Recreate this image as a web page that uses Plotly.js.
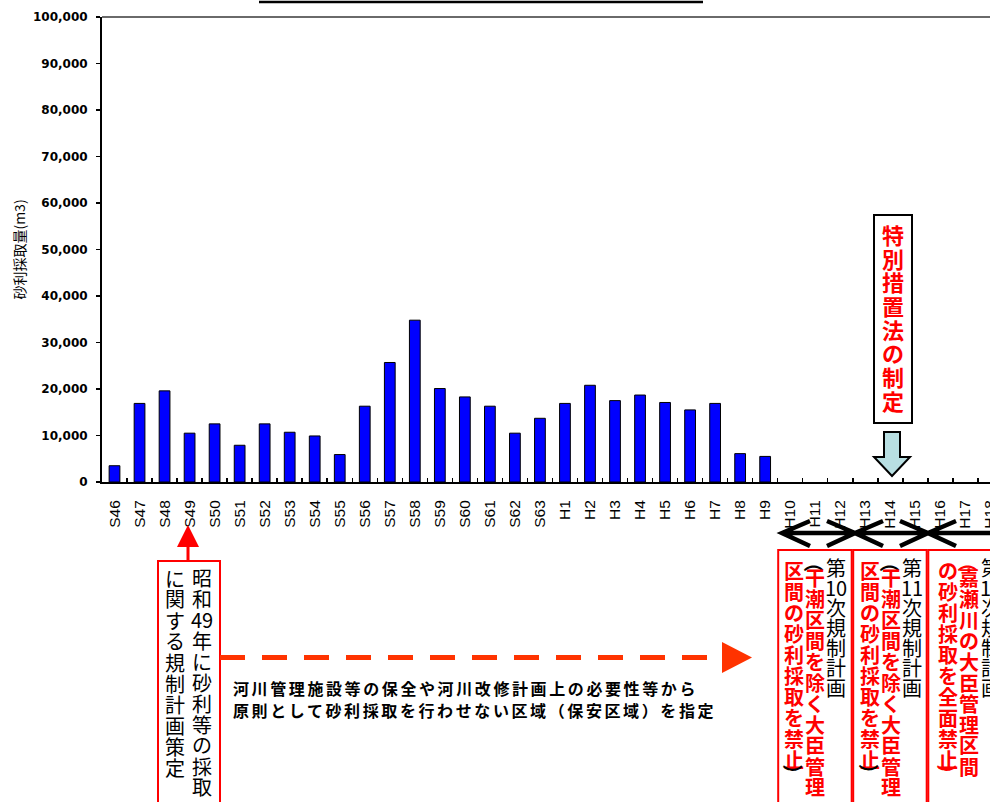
<!DOCTYPE html>
<html>
<head>
<meta charset="utf-8">
<script src="https://cdn.plot.ly/plotly-3.0.1.min.js"></script>
<style>
  html, body { margin: 0; padding: 0; overflow: hidden; background: #fff; }
  #chart { width: 1110px; height: 802px; }
</style>
</head>
<body>
<div id="chart"></div>
<script>
// Fiscal years (Showa 46 .. Heisei 18)
const years = ['S46','S47','S48','S49','S50','S51','S52','S53','S54','S55','S56','S57','S58','S59','S60','S61','S62','S63',
               'H1','H2','H3','H4','H5','H6','H7','H8','H9','H10','H11','H12','H13','H14','H15','H16','H17','H18'];
// Gravel extraction volume (m3); no extraction from H10 on
const volume = [3500,16900,19600,10500,12500,7900,12500,10700,9900,5900,16300,25700,34800,20100,18300,16300,10500,13700,
                16900,20800,17500,18700,17100,15500,16900,6100,5500,null,null,null,null,null,null,null,null,null];

const yTitle = '砂利採取量(m3)';
const lawNote = '特別措置法の制定';
const plan1974 = ['昭和49年に砂利等の採取', 'に関する規制計画策定'];
const zoneNote = ['河川管理施設等の保全や河川改修計画上の必要性等から', '原則として砂利採取を行わせない区域（保安区域）を指定'];
const planTitles = ['第10次規制計画', '第11次規制計画', '第12次規制計画'];
const planRuleA = ['（干潮区間を除く大臣管理', '（干潮区間を除く大臣管理', '（嘉瀬川の大臣管理区間'];
const planRuleB = ['区間の砂利採取を禁止）', '区間の砂利採取を禁止）', 'の砂利採取を全面禁止）'];

// plot frame in pixels
const ML = 102, MT = 17, PW = 1001, PH = 465, PB = MT + PH;
const X = p => (p - ML) / PW;
const Y = p => (PB - p) / PH;

const JP = 'Noto Sans CJK JP, sans-serif';
const RED = '#ff0000';
const annotations = [];
const shapes = [];

// explanatory note under the dashed arrow (letter-spaced via CSS, indices 0 and 1)
zoneNote.forEach((line, i) => {
  annotations.push({
    xref: 'paper', yref: 'paper', x: X(231), y: Y(688 + i * 22),
    xanchor: 'left', yanchor: 'middle', showarrow: false, align: 'left',
    text: line, font: { family: JP, size: 16, weight: 'bold', color: '#000' }
  });
});

// vertical (top-to-bottom) column of text, one token per cell
function vcol(text, xPx, yPx, step, font, parenColor) {
  const toks = text.match(/\d+|./gu);
  let y = yPx, prevParen = false;
  toks.forEach((t, i) => {
    const paren = /[（）]/.test(t);
    if (i > 0) y += (paren || prevParen) ? 15 : step;
    annotations.push({
      xref: 'paper', yref: 'paper', x: X(xPx), y: Y(y),
      xanchor: 'center', yanchor: 'middle', showarrow: false,
      text: t, textangle: paren ? 90 : 0,
      font: Object.assign({}, font, paren && parenColor ? { color: parenColor } : {})
    });
    prevParen = paren;
  });
}

const blackFont = { family: JP, size: 20, color: '#000' };
const redFont = { family: JP, size: 20, color: RED, weight: 'bold' };

// Showa 49 planning note
vcol(plan1974[0], 202, 577, 21, blackFont);
vcol(plan1974[1], 175, 578, 21, blackFont);

// special measures law note
vcol(lawNote, 893, 234, 23.7, { family: JP, size: 22, color: RED, weight: 'bold' });

// regulation plan boxes (left edges in px)
const boxLeft = [777.7, 852.7, 927.8];
const colOffset = [[16, 37, 58.5], [17.5, 38, 59.5], [20, 41, 63]];
const parenColors = ['#000', '#000', RED];
planTitles.forEach((t, k) => {
  const L = boxLeft[k], o = colOffset[k];
  vcol(t, L + o[2], 567, 20, blackFont);
  vcol(planRuleA[k], L + o[1], 562, 21, redFont, parenColors[k]);
  vcol(planRuleB[k], L + o[0], 570, 21, redFont, parenColors[k]);
  shapes.push({ type: 'rect', xref: 'paper', yref: 'paper',
    x0: X(L + 0.5), x1: X(L + 74), y0: Y(550), y1: Y(840),
    line: { color: RED, width: 2 } });
});

const path = pts => pts.map((p, i) => (i ? 'L' : 'M') + X(p[0]) + ',' + Y(p[1])).join(' ');

// top frame and title underline
shapes.push({ type: 'line', xref: 'paper', yref: 'paper', x0: 0, x1: 1, y0: 1, y1: 1,
  line: { color: '#6a6a6a', width: 2 } });
shapes.push({ type: 'line', xref: 'paper', yref: 'paper', x0: X(259), x1: X(703), y0: Y(2), y1: Y(2),
  line: { color: '#000', width: 2.5 } });

// Showa 49 box with red up-arrow
shapes.push({ type: 'rect', xref: 'paper', yref: 'paper', x0: X(158), x1: X(220), y0: Y(561), y1: Y(840),
  line: { color: RED, width: 2 } });
shapes.push({ type: 'line', xref: 'paper', yref: 'paper', x0: X(188), x1: X(188), y0: Y(546), y1: Y(561),
  line: { color: RED, width: 3 } });
shapes.push({ type: 'path', xref: 'paper', yref: 'paper',
  path: path([[177, 547], [199, 547], [188, 525]]) + ' Z', fillcolor: RED, line: { width: 0 } });

// dashed arrow for the protected-zone period
shapes.push({ type: 'line', xref: 'paper', yref: 'paper', x0: X(220), x1: X(722), y0: Y(657.5), y1: Y(657.5),
  line: { color: '#ff3300', width: 5, dash: '25px,17px' } });
shapes.push({ type: 'path', xref: 'paper', yref: 'paper',
  path: path([[722, 642], [722, 673], [752, 657.5]]) + ' Z', fillcolor: '#ff3300', line: { width: 0 } });

// plan period double arrows
let arrows = path([[782, 533], [1110, 533]]);
[782, 855, 928].forEach(t => {
  arrows += ' ' + path([[t + 28, 521], [t, 533], [t + 28, 546]]);
});
[855, 928].forEach(t => {
  arrows += ' ' + path([[t - 28, 521], [t, 533], [t - 28, 546]]);
});
shapes.push({ type: 'path', xref: 'paper', yref: 'paper', path: arrows,
  line: { color: '#000', width: 4.5 } });

// law note frame and down arrow
shapes.push({ type: 'rect', xref: 'paper', yref: 'paper', x0: X(874), x1: X(912), y0: Y(215), y1: Y(423),
  fillcolor: '#fff', line: { color: '#000', width: 2 }, layer: 'below' });
shapes.push({ type: 'path', xref: 'paper', yref: 'paper',
  path: path([[884, 432], [900, 432], [900, 457], [910, 457], [892, 476], [874, 457], [884, 457]]) + ' Z',
  fillcolor: '#b8dfe2', line: { color: '#000', width: 2 } });

const trace = {
  type: 'bar', x: years, y: volume,
  marker: { color: '#0000ff', line: { color: '#000', width: 1 } },
  hoverinfo: 'skip'
};

const layout = {
  width: 1110, height: 802,
  margin: { l: ML, r: 1110 - ML - PW, t: MT, b: 802 - PB },
  paper_bgcolor: '#fff', plot_bgcolor: '#fff',
  showlegend: false, bargap: 0.57,
  xaxis: {
    type: 'category', categoryarray: years, range: [-0.5, 39.5],
    showline: true, linecolor: '#000', linewidth: 2,
    ticks: 'inside', tickson: 'boundaries', ticklen: 4, tickcolor: '#000', tickwidth: 1.5,
    tickangle: -90, ticklabelstandoff: 10,
    tickfont: { family: 'Liberation Sans, Arial, sans-serif', size: 15.5, color: '#000' },
    showgrid: false, zeroline: false, fixedrange: true
  },
  yaxis: {
    range: [0, 100000], dtick: 10000, tickformat: ',d',
    showline: true, linecolor: '#000', linewidth: 2,
    ticks: 'outside', ticklen: 4, tickcolor: '#000', tickwidth: 1.5, ticklabelstandoff: 6,
    tickfont: { family: 'DejaVu Sans, sans-serif', size: 12, weight: 'bold', color: '#000' },
    title: { text: yTitle, standoff: 4, font: { family: JP, size: 14, color: '#000' } },
    showgrid: false, zeroline: false, fixedrange: true
  },
  shapes: shapes,
  annotations: annotations
};

const style = document.createElement('style');
style.textContent = 'g.annotation[data-index="0"] text, g.annotation[data-index="1"] text { letter-spacing: 2.6px; }';
document.head.appendChild(style);

Plotly.newPlot('chart', [trace], layout, { staticPlot: true, displayModeBar: false });
</script>
</body>
</html>
